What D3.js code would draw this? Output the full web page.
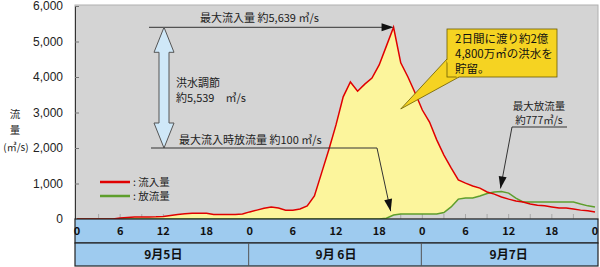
<!DOCTYPE html>
<html>
<head>
<meta charset="utf-8">
<script src="https://cdn.jsdelivr.net/npm/d3@7"></script>
<style>
  body { margin: 0; background: #fff; }
  svg { display: block; font-family: "Noto Sans CJK JP", "Noto Sans", sans-serif; }
</style>
</head>
<body>
<div id="chart"></div>
<script>
// hourly values, 9/5 0:00 .. 9/8 0:00
let hours = d3.range(0, 73);
let inflow = [
    0, 0, 0, 0, 0, 0, 30, 45, 55, 55, 55, 60, 70, 100, 130, 150, 165, 165, 165, 130, 130, 130, 130, 140,
    200, 250, 300, 340, 310, 250, 250, 280, 370, 650, 1300, 1950, 2650, 3440, 3860, 3600, 3800, 3970, 4340, 4870,
    5400, 4400, 4000, 3550, 3070, 2730, 2230, 1800, 1440, 1100, 1010, 930, 870, 760, 700, 620, 560, 510, 480, 420,
    390, 370, 340, 310, 310, 280, 250, 230, 200
];
let outflow = [
    0, 0, 0, 0, 0, 0, 0, 0, 0, 0, 0, 0, 0, 0, 0, 0, 0, 0, 0, 0, 0, 0, 0, 0,
    0, 0, 0, 0, 0, 0, 0, 0, 0, 0, 0, 0, 0, 0, 0, 0, 0, 0, 0, 20,
    110, 140, 140, 140, 140, 140, 140, 180, 340, 560, 590, 590, 650, 720, 760, 777, 730, 590, 480, 480,
    480, 480, 480, 480, 480, 480, 420, 370, 340
];
let yTicks = [0, 1000, 2000, 3000, 4000, 5000, 6000];
let hourTicks = [0, 6, 12, 18, 24, 30, 36, 42, 48, 54, 60, 66, 72];
let days = ["9月5日", "9月 6日", "9月7日"];
let legendLabels = [": 流入量", ": 放流量"];

let data = hours.map((h, i) => ({hour: h, inflow: inflow[i], outflow: outflow[i]}));

let width = 600, height = 267;
let plot = {left: 75, right: 598, top: 5, bottom: 219};

let svg = d3.select("#chart")
    .append("svg")
        .attr("width", width)
        .attr("height", height);

let x = d3.scaleLinear()
    .domain([0, 72])
    .range([77, 595]);

let y = d3.scaleLinear()
    .domain([0, 6000])
    .range([plot.bottom, 6]);

// plot background
svg.append("rect")
    .attr("x", plot.left)
    .attr("y", plot.top)
    .attr("width", plot.right - plot.left)
    .attr("height", plot.bottom - plot.top)
    .attr("fill", "#d4d4d4")
    .attr("stroke", "#b0b0b0");

// minor ticks every 3h
svg.append("g")
    .selectAll("line")
    .data(d3.range(3, 72, 3))
    .enter()
    .append("line")
        .attr("x1", d => x(d))
        .attr("x2", d => x(d))
        .attr("y1", plot.bottom - 5)
        .attr("y2", plot.bottom)
        .attr("stroke", "#a8a8a8");

// stored volume (between inflow and outflow)
let area = d3.area()
    .x(d => x(d.hour))
    .y0(d => y(Math.min(d.inflow, d.outflow)))
    .y1(d => y(d.inflow));

svg.append("path")
    .datum(data)
    .attr("fill", "#fcf59c")
    .attr("d", area);

let lineOut = d3.line()
    .x(d => x(d.hour))
    .y(d => y(d.outflow));
let lineIn = d3.line()
    .x(d => x(d.hour))
    .y(d => y(d.inflow));

svg.append("path")
    .datum(data)
    .attr("fill", "none")
    .attr("stroke", "#5e9e2c")
    .attr("stroke-width", 1.5)
    .attr("d", lineOut);

svg.append("path")
    .datum(data)
    .attr("fill", "none")
    .attr("stroke", "#e00000")
    .attr("stroke-width", 1.5)
    .attr("d", lineIn);

// y axis
let yAxis = svg.append("g")
    .attr("transform", `translate(${plot.left},0)`)
    .call(d3.axisLeft(y)
        .tickValues(yTicks)
        .tickSize(-4)
        .tickPadding(12)
        .tickFormat(d3.format(",")));
yAxis.select(".domain").attr("stroke", "#333");
yAxis.selectAll(".tick line").attr("stroke", "#777");
yAxis.selectAll("text")
    .attr("font-size", 12)
    .attr("fill", "#222")
    .attr("font-family", "'Liberation Sans', sans-serif");

// y axis title
let yt = svg.append("g").attr("font-size", 10.5).attr("fill", "#222").attr("text-anchor", "middle");
yt.append("text").attr("x", 15).attr("y", 118).text("流");
yt.append("text").attr("x", 15).attr("y", 134).text("量");
yt.append("text").attr("x", 16).attr("y", 151).attr("font-size", 10).text("(㎥/s)");

// bottom bands
let band1 = {top: plot.bottom, bottom: 243};
let band2 = {top: 243, bottom: 266};
[band1, band2].forEach(b => {
    svg.append("rect")
        .attr("x", plot.left)
        .attr("y", b.top)
        .attr("width", plot.right - plot.left)
        .attr("height", b.bottom - b.top)
        .attr("fill", "#9ecbef")
        .attr("stroke", "#222")
        .attr("stroke-width", 1.2);
});

svg.append("g")
    .selectAll("text")
    .data(hourTicks)
    .enter()
    .append("text")
        .attr("x", d => x(d))
        .attr("y", 235)
        .attr("text-anchor", "middle")
        .attr("font-size", 11)
        .attr("font-weight", "bold")
        .attr("fill", "#111")
        .text(d => d % 24);

svg.append("g")
    .selectAll("line")
    .data([24, 48])
    .enter()
    .append("line")
        .attr("x1", d => x(d) - 1)
        .attr("x2", d => x(d) - 1)
        .attr("y1", band2.top)
        .attr("y2", band2.bottom)
        .attr("stroke", "#555");

svg.append("g")
    .selectAll("text")
    .data(days)
    .enter()
    .append("text")
        .attr("x", (d, i) => x(12 + i * 24))
        .attr("y", 259)
        .attr("text-anchor", "middle")
        .attr("font-size", 12)
        .attr("font-weight", "bold")
        .attr("fill", "#111")
        .text(d => d);

// legend
let legend = svg.append("g");
["#e00000", "#5e9e2c"].forEach((c, i) => {
    legend.append("line")
        .attr("x1", 100).attr("x2", 130)
        .attr("y1", 182 + i * 14).attr("y2", 182 + i * 14)
        .attr("stroke", c).attr("stroke-width", 2.5);
    legend.append("text")
        .attr("x", 133).attr("y", 186 + i * 14)
        .attr("font-size", 10.5).attr("fill", "#222")
        .text(legendLabels[i]);
});

// annotations
function arrowHead(g, x1, y1, x2, y2, len, w) {
    let a = Math.atan2(y2 - y1, x2 - x1);
    let bx = x2 - len * Math.cos(a), by = y2 - len * Math.sin(a);
    let px = -Math.sin(a) * w / 2, py = Math.cos(a) * w / 2;
    g.append("path")
        .attr("d", `M${x2},${y2}L${bx + px},${by + py}L${bx - px},${by - py}Z`)
        .attr("fill", "#111");
}

let ann = svg.append("g").attr("font-size", 11).attr("fill", "#222");

let peak = data.reduce((a, b) => b.inflow > a.inflow ? b : a);
let px = x(peak.hour), py = y(peak.inflow);

// max inflow
ann.append("line")
    .attr("x1", 149).attr("x2", px - 8)
    .attr("y1", py).attr("y2", py)
    .attr("stroke", "#333");
arrowHead(ann, 149, py, px, py, 12, 8);
ann.append("text").attr("x", 200).attr("y", py - 5).text("最大流入量 約5,639 ㎥/s");

// flood control double arrow
let ax = 164, aTop = py, aBot = y(2000);
let hw = 10, sw = 5, hh = 25;
ann.append("path")
    .attr("d", `M${ax},${aTop}L${ax + hw},${aTop + hh}L${ax + sw},${aTop + hh}L${ax + sw},${aBot - hh}` +
        `L${ax + hw},${aBot - hh}L${ax},${aBot}L${ax - hw},${aBot - hh}L${ax - sw},${aBot - hh}` +
        `L${ax - sw},${aTop + hh}L${ax - hw},${aTop + hh}Z`)
    .attr("fill", "#cfe8f8")
    .attr("stroke", "#555");
ann.append("text").attr("x", 176).attr("y", 87).text("洪水調節");
ann.append("text").attr("x", 176).attr("y", 102).text("約5,539　㎥/s");

// outflow at max inflow
let tipX = x(43.6), tipY = y(220);
ann.append("path")
    .attr("d", `M${151},${aBot}L${377},${aBot}L${tipX},${tipY}`)
    .attr("fill", "none")
    .attr("stroke", "#333");
arrowHead(ann, 377, aBot, tipX, tipY, 12, 8);
ann.append("text").attr("x", 179).attr("y", aBot - 4).text("最大流入時放流量 約100 ㎥/s");

// callout
let cx = 447, cy = 29, cw = 110, ch = 48;
ann.append("path")
    .attr("d", `M${cx},${cy + 30}L${x(45)},${y(3100)}L${cx + 12},${cy + ch}`)
    .attr("fill", "#f5d322")
    .attr("stroke", "#6b5c00")
    .attr("stroke-width", 0.8);
ann.append("rect")
    .attr("x", cx).attr("y", cy)
    .attr("width", cw).attr("height", ch)
    .attr("fill", "#f5d322")
    .attr("stroke", "#6b5c00")
    .attr("stroke-width", 0.8);
ann.append("path")
    .attr("d", `M${cx},${cy + 31}L${cx + 11},${cy + ch}`)
    .attr("stroke", "#f5d322")
    .attr("stroke-width", 2);
["2日間に渡り約2億", "4,800万㎥の洪水を", "貯留。"].forEach((t, i) => {
    ann.append("text")
        .attr("x", 455).attr("y", 43 + i * 15)
        .attr("font-size", 11.5)
        .attr("fill", "#111")
        .text(t);
});

// max outflow
let maxOut = data.reduce((a, b) => b.outflow > a.outflow ? b : a);
let mx = x(maxOut.hour) - 1, my = y(maxOut.outflow) - 3;
ann.append("path")
    .attr("d", `M567,127L512,127L${mx},${my}`)
    .attr("fill", "none")
    .attr("stroke", "#333");
arrowHead(ann, 512, 127, mx, my, 12, 8);
ann.append("text").attr("x", 539).attr("y", 110).attr("text-anchor", "middle").attr("font-size", 10.5).text("最大放流量");
ann.append("text").attr("x", 539).attr("y", 124).attr("text-anchor", "middle").attr("font-size", 10.5).text("約777㎥/s");
</script>
</body>
</html>
